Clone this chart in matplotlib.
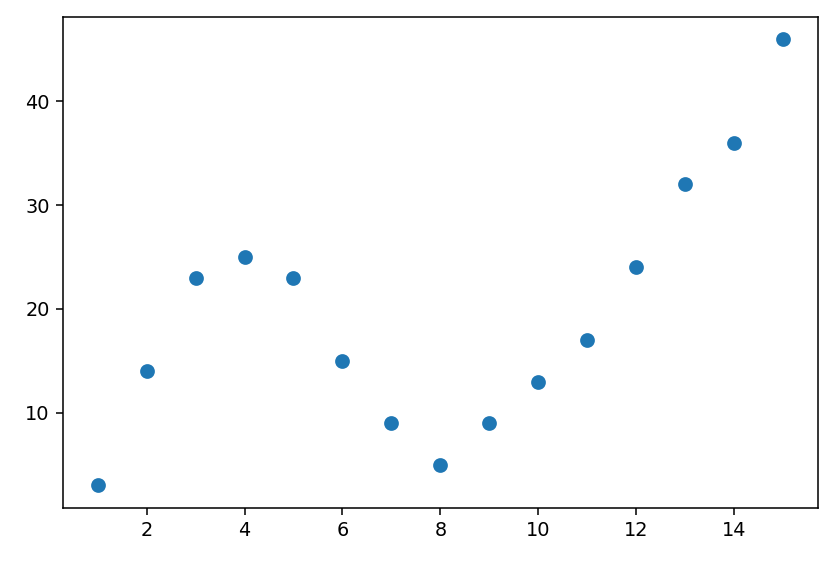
import matplotlib
matplotlib.use("Agg")
import matplotlib.pyplot as plt

x = [1, 2, 3, 4, 5, 6, 7, 8, 9, 10, 11, 12, 13, 14, 15]
y = [3, 14, 23, 25, 23, 15, 9, 5, 9, 13, 17, 24, 32, 36, 46]

fig = plt.figure(figsize=(834/139, 561/139), dpi=139)
ax = fig.add_axes([63.3/834, 1-507.7/561, (817.5-63.3)/834, (507.7-16.7)/561])
ax.scatter(x, y, color='#1f77b4', s=44)
fig.savefig("out.png", dpi=139)
